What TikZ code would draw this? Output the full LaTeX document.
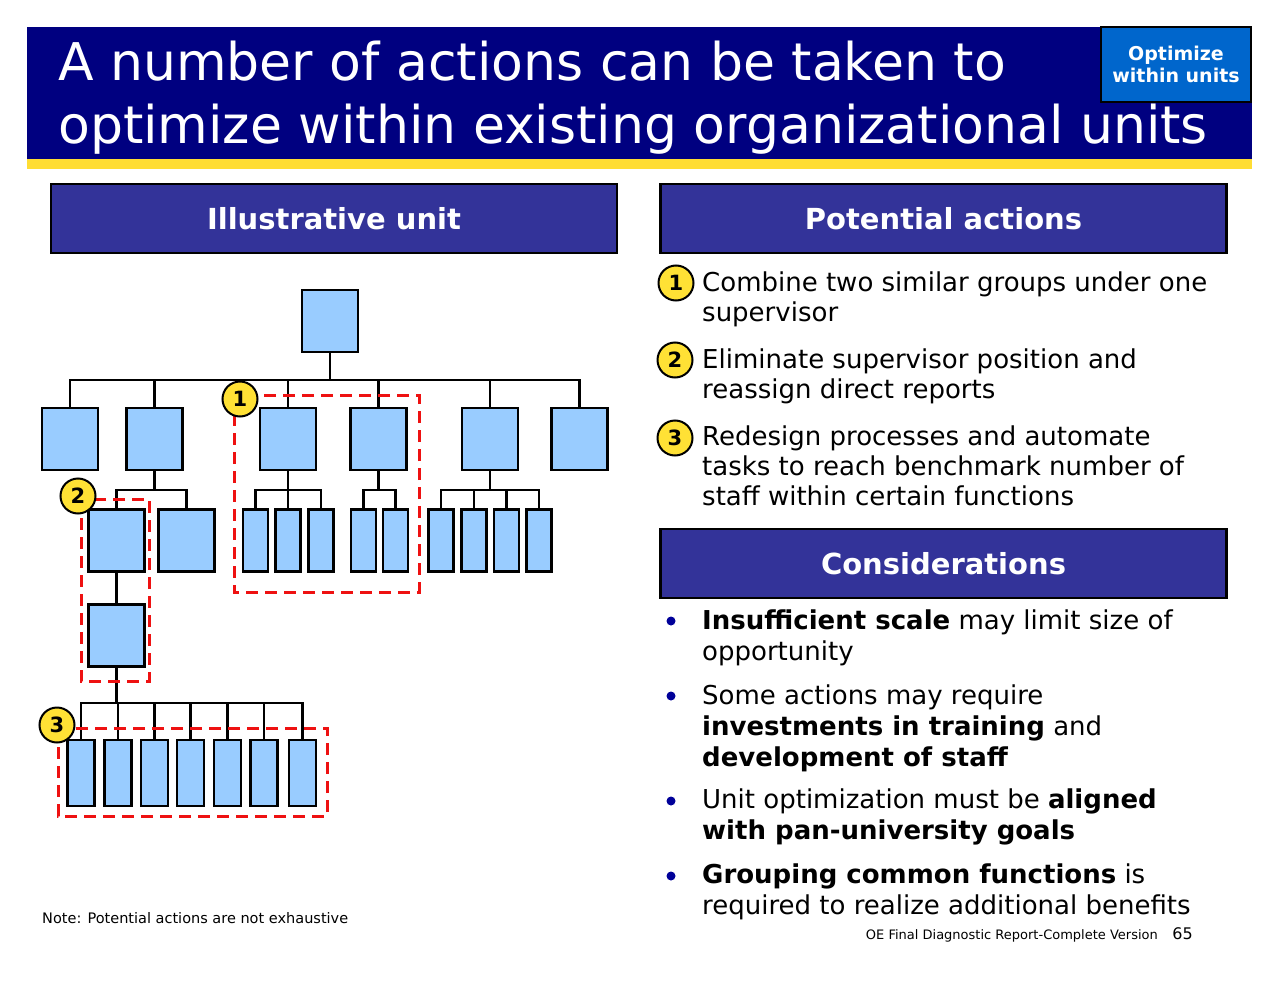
\documentclass[tikz,border=0pt]{standalone}
\usepackage{fontspec}
\setmainfont{DejaVu Sans}
\definecolor{navy}{HTML}{000080}
\definecolor{stripe}{HTML}{FFDD33}
\definecolor{hdr}{HTML}{333399}
\definecolor{badgeblue}{HTML}{0066CC}
\definecolor{lblue}{HTML}{99CCFF}
\definecolor{numyellow}{HTML}{FFE135}
\definecolor{dashred}{HTML}{EE1111}
\definecolor{dotblue}{HTML}{000099}
\tikzset{
  box/.style={draw=black, line width=2.8pt, fill=lblue, inner sep=0pt},
  sq/.style={box, minimum width=56pt, minimum height=62pt},
  nar/.style={box, minimum width=25pt, minimum height=62pt},
  nar3/.style={box, minimum width=27pt, minimum height=66pt},
  conn/.style={line width=2.6pt, line cap=rect},
  redbox/.style={draw=dashred, line width=3pt, dash pattern=on 12pt off 7pt},
  num/.style={circle, draw=black, line width=2pt, fill=numyellow, inner sep=0pt, minimum size=35pt, font=\fontsize{21}{21}\selectfont\bfseries},
  header/.style={draw=black, line width=2.4pt, fill=hdr, text=white, font=\fontsize{29}{29}\selectfont\bfseries, minimum width=566pt, minimum height=69pt, inner sep=0pt},
  body/.style={anchor=base west, inner sep=0pt, font=\fontsize{26}{30}\selectfont},
  bdot/.style={circle, fill=dotblue, inner sep=0pt, minimum size=9pt},
}
\begin{document}
\begin{tikzpicture}[x=1pt, y=-1pt]
\useasboundingbox (0,0) rectangle (1280,990);
% title bar
\fill[navy] (27,27) rectangle (1252,159);
\fill[stripe] (27,159) rectangle (1252,169);
\node[anchor=base west, inner sep=0pt, text=white, font=\fontsize{52}{52}\selectfont] (t1) at (58,81) {A number of actions can be taken to};
\node[anchor=base west, inner sep=0pt, text=white, font=\fontsize{52}{52}\selectfont] (t2) at (58,143) {optimize within existing organizational units};
\node[draw=black, line width=2.4pt, fill=badgeblue, text=white, minimum width=150pt, minimum height=75pt, inner sep=0pt, align=center, font=\fontsize{19}{22}\selectfont\bfseries] (badge) at (1176,64.5) {Optimize\\within units};
% headers
\node[header] (h1) at (334,218.5) {Illustrative unit};
\node[header] (h2) at (943.5,218.5) {Potential actions};
\node[header] (h3) at (943.5,563.5) {Considerations};
% org chart
\node[sq] (top) at (330,321) {};
\node[sq] (b1) at (70,439) {};
\node[sq] (b2) at (154.5,439) {};
\node[sq] (b3) at (288,439) {};
\node[sq] (b4) at (378.5,439) {};
\node[sq] (b5) at (490,439) {};
\node[sq] (b6) at (579.5,439) {};
\node[sq] (c1) at (116.5,540.5) {};
\node[sq] (c2) at (186.5,540.5) {};
\node[nar] (d1) at (255.5,540.5) {};
\node[nar] (d2) at (288,540.5) {};
\node[nar] (d3) at (321,540.5) {};
\node[nar] (e1) at (363.5,540.5) {};
\node[nar] (e2) at (395.5,540.5) {};
\node[nar] (f1) at (441,540.5) {};
\node[nar] (f2) at (474,540.5) {};
\node[nar] (f3) at (506.5,540.5) {};
\node[nar] (f4) at (539,540.5) {};
\node[sq] (g) at (116.5,635.5) {};
\node[nar3] (k1) at (81,773) {};
\node[nar3] (k2) at (118,773) {};
\node[nar3] (k3) at (154.5,773) {};
\node[nar3] (k4) at (190.5,773) {};
\node[nar3] (k5) at (227.5,773) {};
\node[nar3] (k6) at (264,773) {};
\node[nar3] (k7) at (302.5,773) {};
\coordinate (busA) at (0,380);
\coordinate (busB) at (0,490);
\coordinate (busC) at (0,703);
% connectors
\draw[conn] (top.south) -- (top.south |- busA);
\draw[conn] (b1.north) -- (b1.north |- busA) -- (b6.north |- busA) -- (b6.north);
\foreach \n in {b2,b3,b4,b5} \draw[conn] (\n.north) -- (\n.north |- busA);
\draw[conn] (b2.south) -- (b2.south |- busB);
\draw[conn] (c1.north) -- (c1.north |- busB) -- (c2.north |- busB) -- (c2.north);
\draw[conn] (b3.south) -- (b3.south |- busB);
\draw[conn] (d1.north) -- (d1.north |- busB) -- (d3.north |- busB) -- (d3.north);
\draw[conn] (d2.north) -- (d2.north |- busB);
\draw[conn] (b4.south) -- (b4.south |- busB);
\draw[conn] (e1.north) -- (e1.north |- busB) -- (e2.north |- busB) -- (e2.north);
\draw[conn] (b5.south) -- (b5.south |- busB);
\draw[conn] (f1.north) -- (f1.north |- busB) -- (f4.north |- busB) -- (f4.north);
\foreach \n in {f2,f3} \draw[conn] (\n.north) -- (\n.north |- busB);
\draw[conn] (c1.south) -- (g.north);
\draw[conn] (g.south) -- (g.south |- busC);
\draw[conn] (k1.north) -- (k1.north |- busC) -- (k7.north |- busC) -- (k7.north);
\foreach \n in {k2,k3,k4,k5,k6} \draw[conn] (\n.north) -- (\n.north |- busC);
% red dashed groups
\draw[redbox] (234,395) rectangle (419,592);
\draw[redbox] (81,499) rectangle (149,681);
\draw[redbox] (58,728) rectangle (327,816);
\node[num] (n1) at (240,399) {1};
\node[num] (n2) at (78,496) {2};
\node[num] (n3) at (57,725) {3};
% potential actions
\node[num] (a1) at (676,283) {1};
\node[num] (a2) at (675,360) {2};
\node[num] (a3) at (675,438) {3};
\node[body] (a1l1) at (702,291) {Combine two similar groups under one};
\node[body] (a1l2) at (702,321) {supervisor};
\node[body] (a2l1) at (702,368) {Eliminate supervisor position and};
\node[body] (a2l2) at (702,398) {reassign direct reports};
\node[body] (a3l1) at (702,445) {Redesign processes and automate};
\node[body] (a3l2) at (702,475) {tasks to reach benchmark number of};
\node[body] (a3l3) at (702,505) {staff within certain functions};
% considerations
\node[bdot] (p1) at (671,621) {};
\node[bdot] (p2) at (671,696) {};
\node[bdot] (p3) at (671,801) {};
\node[bdot] (p4) at (671,876) {};
\node[body] (c1l1) at (702,629) {\textbf{Insufficient scale} may limit size of};
\node[body] (c1l2) at (702,660) {opportunity};
\node[body] (c2l1) at (702,704) {Some actions may require};
\node[body] (c2l2) at (702,735) {\textbf{investments in training} and};
\node[body] (c2l3) at (702,766) {\textbf{development of staff}};
\node[body] (c3l1) at (702,808) {Unit optimization must be \textbf{aligned}};
\node[body] (c3l2) at (702,839) {\textbf{with pan-university goals}};
\node[body] (c4l1) at (702,883) {\textbf{Grouping common functions} is};
\node[body] (c4l2) at (702,914) {required to realize additional benefits};
% footer
\node[anchor=base west, inner sep=0pt, font=\fontsize{14.5}{14.5}\selectfont] (note) at (42,923) {Note: Potential actions are not exhaustive};
\node[anchor=base east, inner sep=0pt, font=\fontsize{13}{13}\selectfont] (foot) at (1158,939) {OE Final Diagnostic Report-Complete Version};
\node[anchor=base east, inner sep=0pt, font=\fontsize{16}{16}\selectfont] (page) at (1193,939) {65};
\end{tikzpicture}
\end{document}
